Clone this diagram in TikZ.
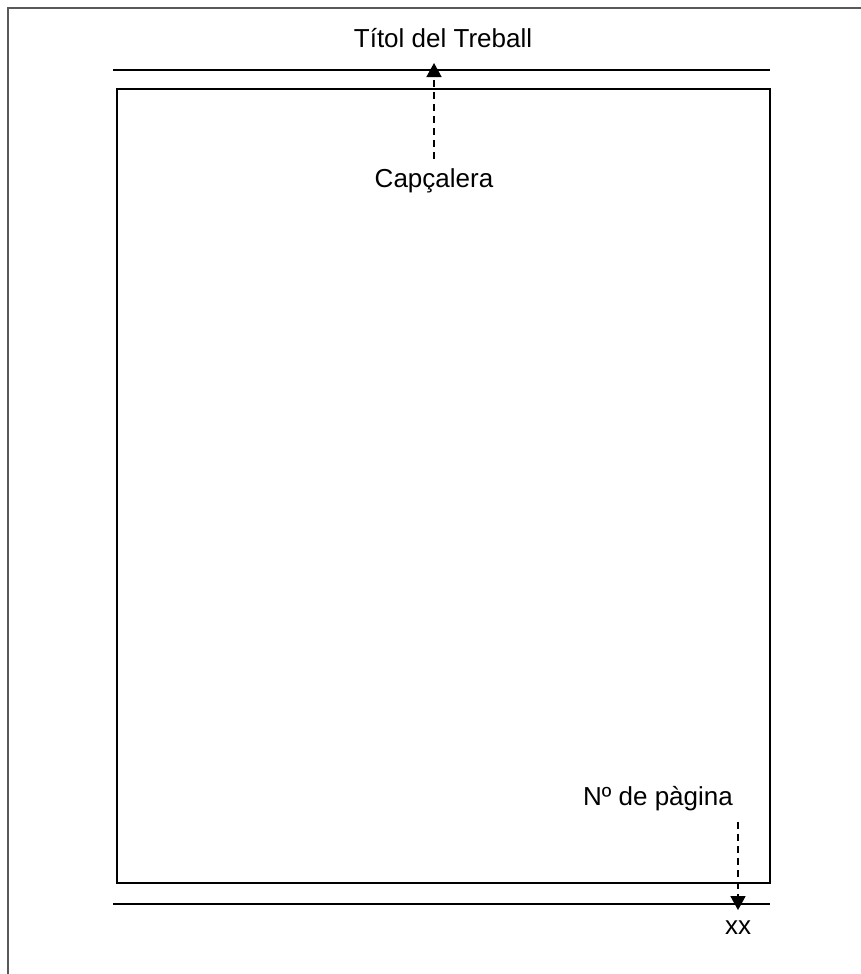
\documentclass[tikz,border=0pt]{standalone}
\usepackage{fontspec}
\setmainfont{Liberation Sans}
\usetikzlibrary{arrows.meta}
\begin{document}
\begin{tikzpicture}[x=1pt,y=-1pt,
  lbl/.style={font=\fontsize{26}{30}\selectfont, inner sep=0pt},
  rule/.style={draw=black, line width=1.8pt},
  lead/.style={draw=black, line width=1.6pt, dash pattern=on 7pt off 5pt,
    -{Triangle[width=15pt,length=14pt]}}]
\useasboundingbox (0,0) rectangle (861,974);
% outer frame (only top and left visible)
\draw[draw=black!65, line width=1.6pt] (8,974) -- (8,8) -- (861,8);
% header and footer rules
\draw[rule] (113,70) -- (770,70);
\draw[rule] (113,904) -- (770,904);
% text area
\draw[rule] (117,89) rectangle (770,883);
% labels
\node[lbl, anchor=base] (title) at (443,48) {Títol del Treball};
\node[lbl, anchor=base, inner ysep=9pt] (cap) at (434,187) {Capçalera};
\node[lbl, anchor=base] (pg) at (658,805) {Nº de pàgina};
\node[lbl, anchor=base, inner ysep=10pt] (xx) at (738,934) {xx};
% leaders
\coordinate (hdrTip) at (434,63);
\coordinate (pgLead) at (738,822);
\draw[lead] (cap.north) -- (hdrTip);
\draw[lead] (pgLead) -- (xx.north);
\end{tikzpicture}
\end{document}
